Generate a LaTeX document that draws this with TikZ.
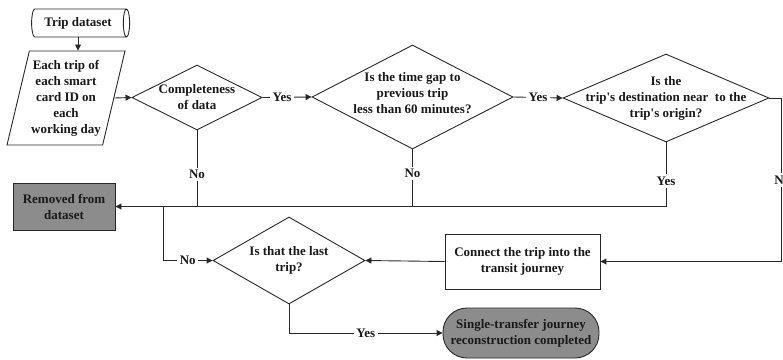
\documentclass[tikz,border=0pt]{standalone}
\usepackage{fontspec}
\setmainfont{Liberation Serif}
\usetikzlibrary{shapes.geometric,arrows.meta}
\definecolor{ink}{RGB}{40,40,40}
\definecolor{shade}{RGB}{140,140,140}
\begin{document}
\begin{tikzpicture}[x=1pt,y=-1pt,
  every node/.style={font=\fontsize{13}{16}\selectfont\bfseries, text=black!90},
  line/.style={draw=ink, line width=0.9pt},
  arr/.style={line, -{Triangle[length=6pt,width=6pt]}},
  shapeline/.style={draw=ink, line width=0.9pt},
  dia/.style={shapeline, shape=diamond, inner sep=0pt},
  txt/.style={align=center, inner sep=0pt},
  box/.style={shapeline, rectangle, align=center, inner sep=2pt},
  lab/.style={fill=white, inner sep=2.5pt}]
\useasboundingbox (0,0) rectangle (783,359);

% data source and per-trip input
\node[shapeline, shape=cylinder, aspect=0.4, minimum width=28, minimum height=98,
      inner sep=2pt] (cyl) at (78,23) {Trip dataset};
\node[shapeline, trapezium, trapezium left angle=74, trapezium right angle=106,
      trapezium stretches body, minimum width=118, minimum height=94,
      inner sep=1pt, align=center] (para) at (66,98)
      {Each trip of\\each smart\\card ID on\\each\\working day};

% decisions
\node[dia, minimum width=130, minimum height=65] (d1) at (197,97.5) {};
\node[txt] at (d1) {Completeness\\of data};
\node[dia, minimum width=201, minimum height=104] (d2) at (412.5,97) {};
\node[txt, yshift=4] at (d2) {Is the time gap to\\previous trip\\less than 60 minutes?};
\node[dia, minimum width=206, minimum height=88] (d3) at (666,98) {};
\node[txt] at (d3) {Is the\\trip\textquotesingle s destination near\ \ to the\\trip\textquotesingle s origin?};
\node[dia, minimum width=152, minimum height=87] (d4) at (289,260.5) {};
\node[txt] at (d4) {Is that the last\\trip?};

% process boxes and terminal
\node[box, fill=shade, minimum width=102, minimum height=47] (rem) at (64,206.5)
      {Removed from\\dataset};
\node[box, minimum width=155, minimum height=55] (conn) at (522.5,261.5)
      {Connect the trip into the\\transit journey};
\node[box, fill=shade, rounded corners=24pt, minimum width=156, minimum height=50,
      inner sep=1pt] (term) at (521,333)
      {Single-transfer journey\\reconstruction completed};

% junction points
\coordinate (j3) at (d3.south |- rem.east);
\coordinate (jn) at (163,0 |- rem.east);
\coordinate (rc) at (781,0 |- d3.east);

% connectors
\draw[arr] (cyl.south) -- (cyl.south |- para.north);
\draw[arr] (para.east) -- (d1.west);
\draw[arr] (d1.east) -- node[lab, pos=0.4] {Yes} (d2.west);
\draw[arr] (d2.east) -- node[lab] {Yes} (d3.west);
\draw[line] (d1.south) -- node[lab, pos=0.58] {No} (d1.south |- rem.east);
\draw[line] (d2.south) -- node[lab, pos=0.42] {No} (d2.south |- rem.east);
\draw[line] (d3.south) -- node[lab, pos=0.6] {Yes} (j3);
\draw[arr] (j3) -- (rem.east);
\draw[arr] (jn) |- node[lab, pos=0.75] {No} (d4.west);
\draw[arr] (d3.east) -- (rc) |- node[lab, pos=0.25, xshift=-2] {N} (conn.east);
\draw[arr] (conn.west) -- (d4.east);
\draw[arr] (d4.south) |- node[lab, pos=0.75] {Yes} (term.west);
\end{tikzpicture}
\end{document}
